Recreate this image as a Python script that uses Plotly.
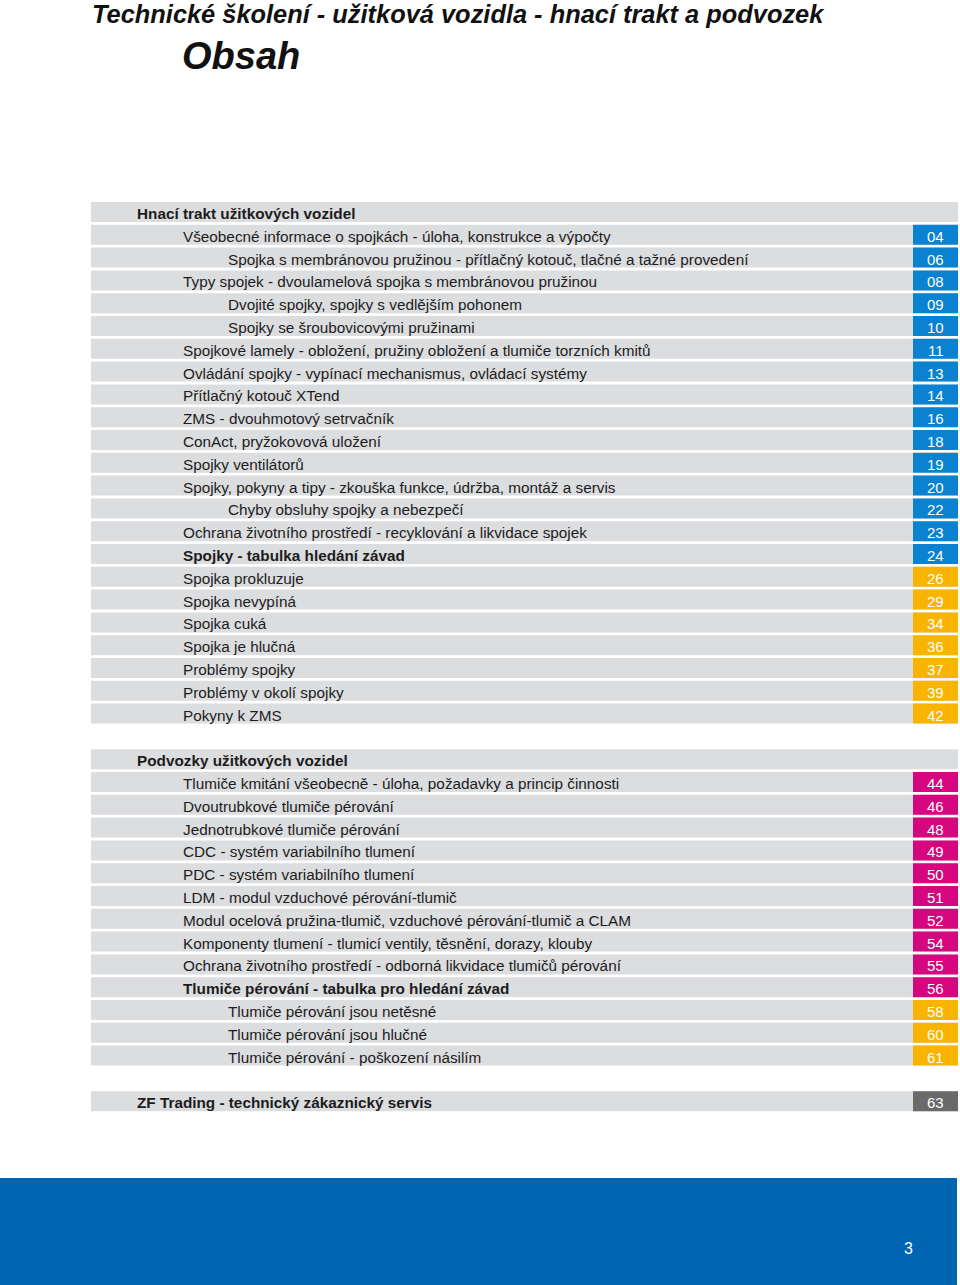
import plotly.graph_objects as go

# ---------------- data ----------------
header_title = "Technické školení - užitková vozidla - hnací trakt a podvozek"
page_title = "Obsah"
page_number = "3"

# one entry per row of the table of contents ("" title = blank spacer row)
titles = [
    "Hnací trakt užitkových vozidel",
    "Všeobecné informace o spojkách - úloha, konstrukce a výpočty",
    "Spojka s membránovou pružinou - přítlačný kotouč, tlačné a tažné provedení",
    "Typy spojek - dvoulamelová spojka s membránovou pružinou",
    "Dvojité spojky, spojky s vedlějším pohonem",
    "Spojky se šroubovicovými pružinami",
    "Spojkové lamely - obložení, pružiny obložení a tlumiče torzních kmitů",
    "Ovládání spojky - vypínací mechanismus, ovládací systémy",
    "Přítlačný kotouč XTend",
    "ZMS - dvouhmotový setrvačník",
    "ConAct, pryžokovová uložení",
    "Spojky ventilátorů",
    "Spojky, pokyny a tipy - zkouška funkce, údržba, montáž a servis",
    "Chyby obsluhy spojky a nebezpečí",
    "Ochrana životního prostředí - recyklování a likvidace spojek",
    "Spojky - tabulka hledání závad",
    "Spojka prokluzuje",
    "Spojka nevypíná",
    "Spojka cuká",
    "Spojka je hlučná",
    "Problémy spojky",
    "Problémy v okolí spojky",
    "Pokyny k ZMS",
    "",
    "Podvozky užitkových vozidel",
    "Tlumiče kmitání všeobecně - úloha, požadavky a princip činnosti",
    "Dvoutrubkové tlumiče pérování",
    "Jednotrubkové tlumiče pérování",
    "CDC - systém variabilního tlumení",
    "PDC - systém variabilního tlumení",
    "LDM - modul vzduchové pérování-tlumič",
    "Modul ocelová pružina-tlumič, vzduchové pérování-tlumič a CLAM",
    "Komponenty tlumení - tlumicí ventily, těsnění, dorazy, klouby",
    "Ochrana životního prostředí - odborná likvidace tlumičů pérování",
    "Tlumiče pérování - tabulka pro hledání závad",
    "Tlumiče pérování jsou netěsné",
    "Tlumiče pérování jsou hlučné",
    "Tlumiče pérování - poškození násilím",
    "",
    "ZF Trading - technický zákaznický servis",
]
levels = [0, 1, 2, 1, 2, 2, 1, 1, 1, 1, 1, 1, 1, 2, 1, 1, 1, 1, 1, 1, 1, 1, 1,
          None,
          0, 1, 1, 1, 1, 1, 1, 1, 1, 1, 1, 2, 2, 2,
          None,
          0]
bold = [True, False, False, False, False, False, False, False, False, False, False,
        False, False, False, False, True, False, False, False, False, False, False,
        False,
        False,
        True, False, False, False, False, False, False, False, False, False, True,
        False, False, False,
        False,
        True]
pages = ["", "04", "06", "08", "09", "10", "11", "13", "14", "16", "18", "19", "20",
         "22", "23", "24", "26", "29", "34", "36", "37", "39", "42",
         "",
         "", "44", "46", "48", "49", "50", "51", "52", "54", "55", "56", "58", "60", "61",
         "",
         "63"]
groups = ["", "blue", "blue", "blue", "blue", "blue", "blue", "blue", "blue", "blue",
          "blue", "blue", "blue", "blue", "blue", "blue", "yellow", "yellow", "yellow",
          "yellow", "yellow", "yellow", "yellow",
          "",
          "", "magenta", "magenta", "magenta", "magenta", "magenta", "magenta",
          "magenta", "magenta", "magenta", "magenta", "yellow", "yellow", "yellow",
          "",
          "gray"]

# ---------------- styling ----------------
W, H = 960, 1285
ROW0 = 212.0          # centre of first row (px)
PITCH = 22.8          # row pitch (px)
ROW_H = 20            # bar height (px)
ROW_LEFT, ROW_RIGHT = 91, 958
BOX_LEFT = 913
INDENT = {0: 135, 1: 181, 2: 226}
ROW_GRAY = "#dcdddf"
GROUP_COLORS = {"blue": "#0a82cf", "yellow": "#f9b400",
                "magenta": "#d4077f", "gray": "#6a6a6a"}
FONT = "Liberation Sans, Arial, Helvetica, sans-serif"

centers = [ROW0 + i * PITCH for i in range(len(titles))]

fig = go.Figure()

# gray row bars
rows_idx = [i for i, t in enumerate(titles) if t]
fig.add_trace(go.Bar(
    orientation="h",
    y=[centers[i] for i in rows_idx],
    x=[ROW_RIGHT - ROW_LEFT] * len(rows_idx),
    base=[ROW_LEFT] * len(rows_idx),
    width=ROW_H,
    marker=dict(color=ROW_GRAY, line=dict(width=0)),
    hoverinfo="skip", showlegend=False,
))

# coloured page-number boxes
for g, col in GROUP_COLORS.items():
    idx = [i for i in range(len(titles)) if groups[i] == g]
    fig.add_trace(go.Bar(
        orientation="h",
        y=[centers[i] for i in idx],
        x=[ROW_RIGHT - BOX_LEFT] * len(idx),
        base=[BOX_LEFT] * len(idx),
        width=ROW_H,
        marker=dict(color=col, line=dict(width=0)),
        hoverinfo="skip", showlegend=False,
    ))

annotations = []
for i, t in enumerate(titles):
    if not t:
        continue
    annotations.append(dict(
        x=INDENT[levels[i]], y=centers[i] + 1.5, xref="x", yref="y",
        text=f"<b>{t}</b>" if bold[i] else t,
        showarrow=False, xanchor="left", yanchor="middle",
        font=dict(family=FONT, size=15.3, color="#1c1c1c"),
    ))
    if pages[i]:
        annotations.append(dict(
            x=(BOX_LEFT + ROW_RIGHT) / 2, y=centers[i] + 1.5, xref="x", yref="y",
            text=pages[i], showarrow=False, xanchor="center", yanchor="middle",
            font=dict(family=FONT, size=15, color="white"),
        ))

# page header
annotations.append(dict(x=90, y=14, xref="x", yref="y", showarrow=False,
                        xanchor="left", yanchor="middle",
                        text=f"<b><i>{header_title}</i></b>",
                        font=dict(family=FONT, size=25.4, color="#111111")))
annotations.append(dict(x=180, y=56, xref="x", yref="y", showarrow=False,
                        xanchor="left", yanchor="middle",
                        text=f"<b><i>{page_title}</i></b>",
                        font=dict(family=FONT, size=38, color="#111111")))
annotations.append(dict(x=908, y=1248, xref="x", yref="y", showarrow=False,
                        xanchor="center", yanchor="middle", text=page_number,
                        font=dict(family=FONT, size=16, color="white")))

fig.update_layout(
    width=W, height=H,
    autosize=False,
    margin=dict(l=0, r=0, t=0, b=0),
    paper_bgcolor="white", plot_bgcolor="white",
    barmode="overlay",
    xaxis=dict(range=[0, W], visible=False, fixedrange=True),
    yaxis=dict(range=[H, 0], visible=False, fixedrange=True),
    annotations=annotations,
    shapes=[dict(type="rect", xref="x", yref="y", x0=0, x1=957, y0=1178, y1=H,
                 fillcolor="#0066b3", line=dict(width=0), layer="below")],
)

post = ("document.body.style.margin='0';document.body.style.padding='0';"
        "var gd=document.getElementById('{plot_id}');"
        "Plotly.relayout(gd,{width:960,height:1285});")
fig.write_html("out.html", config={"responsive": False, "displayModeBar": False},
               post_script=post)
